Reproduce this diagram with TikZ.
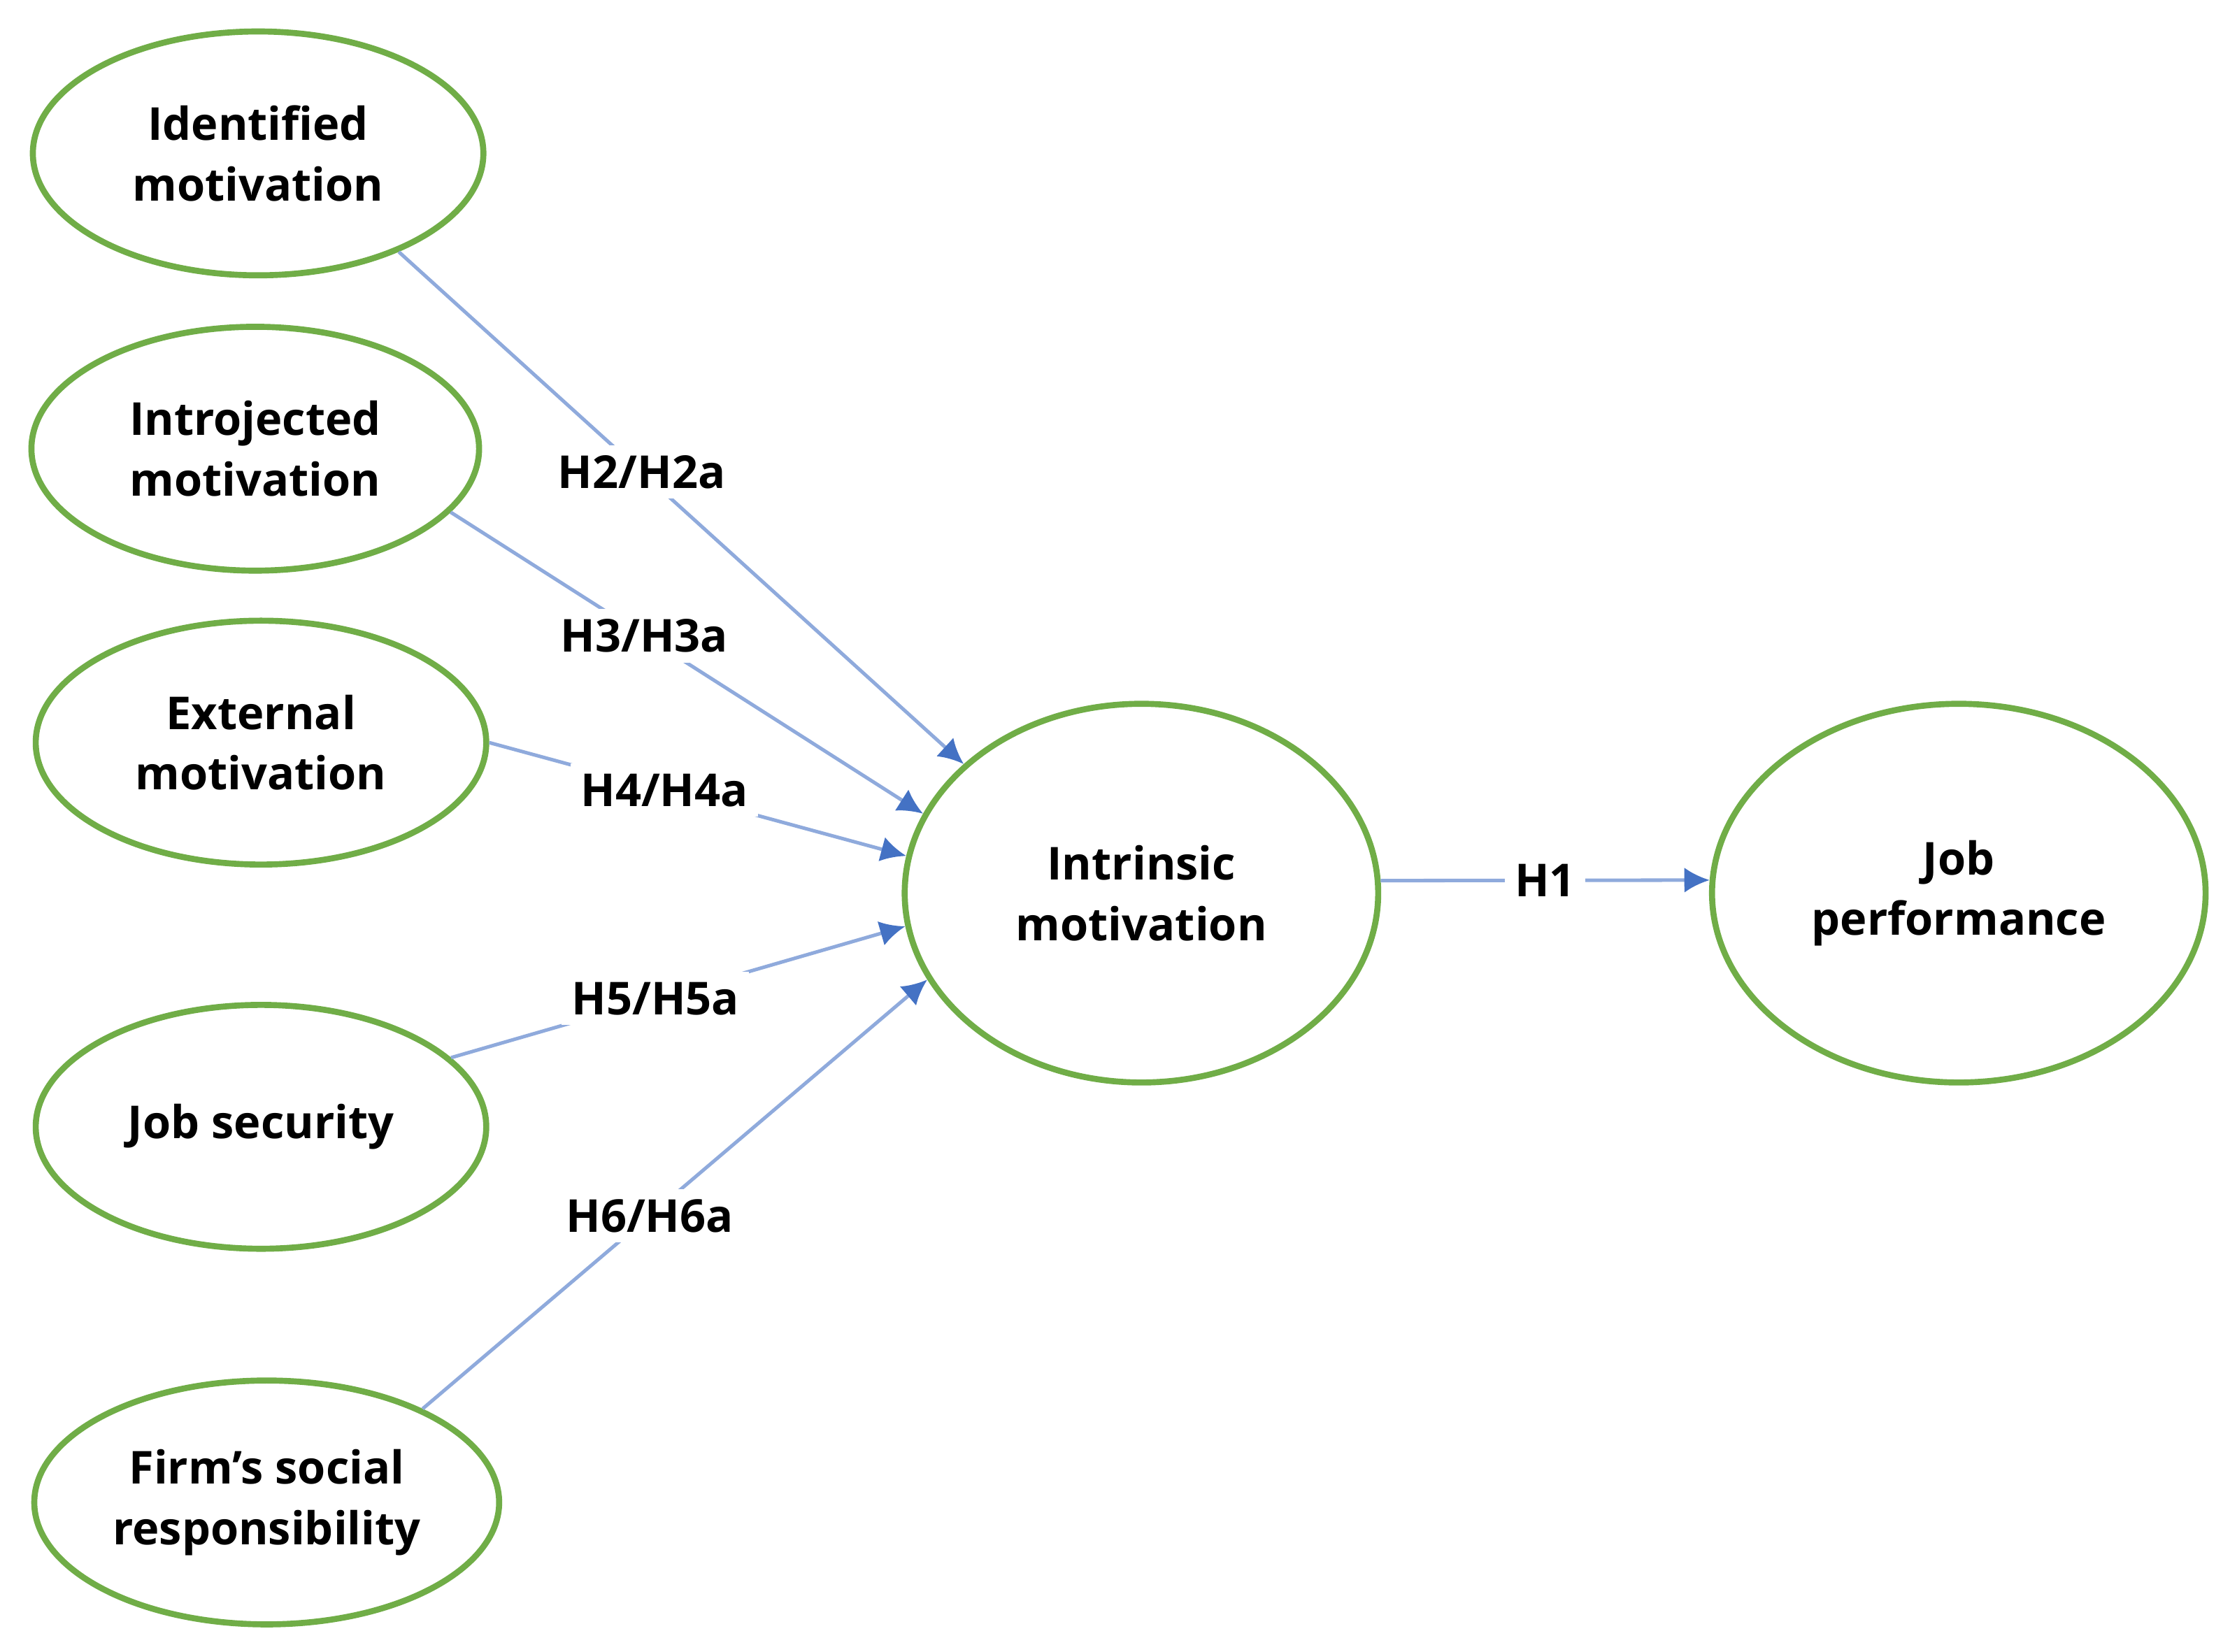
\documentclass[tikz,border=0pt]{standalone}
\usepackage{fontspec}
\setmainfont{Open Sans}
\usetikzlibrary{shapes.geometric,arrows.meta}
\definecolor{ovalgreen}{HTML}{70AD47}
\definecolor{linkblue}{HTML}{8FAADC}
\definecolor{tipblue}{HTML}{4472C4}
\begin{document}
\begin{tikzpicture}[x=0.01cm,y=-0.01cm,
    construct/.style={ellipse,draw=ovalgreen,line width=1.2pt,inner sep=0pt,
        align=center,font=\fontsize{9}{12}\selectfont\bfseries},
    link/.style={draw=linkblue,line width=0.7pt,-{Latex[length=5pt,width=5pt,color=tipblue]}},
    hyp/.style={fill=white,inner sep=2pt,font=\fontsize{9}{12}\selectfont\bfseries}]
    \useasboundingbox (0,0) rectangle (1560,1152);
    % left column
    \node[construct,minimum width=3.14cm,minimum height=1.7cm] (idm) at (180,107){Identified\\motivation};
    \node[construct,minimum width=3.12cm,minimum height=1.7cm] (inm) at (178,313){Introjected\\motivation};
    \node[construct,minimum width=3.14cm,minimum height=1.7cm] (exm) at (182,518){External\\motivation};
    \node[construct,minimum width=3.14cm,minimum height=1.7cm] (jsc) at (182,786){Job security};
    \node[construct,minimum width=3.24cm,minimum height=1.7cm] (fsr) at (186,1048){Firm{\char"27}s social\\responsibility};
    % right part
    \node[construct,minimum width=3.3cm,minimum height=2.64cm] (intr) at (796,623){Intrinsic\\motivation};
    \node[construct,minimum width=3.44cm,minimum height=2.64cm] (jp) at (1366,623){Job\\performance};
    % paths
    \draw[link] (idm.-35) -- node[hyp,pos=0.43]{H2/H2a} (intr.144);
    \draw[link] (inm.-18) -- node[hyp,pos=0.41]{H3/H3a} (intr.160);
    \draw[link] (exm.0) -- node[hyp,pos=0.42]{H4/H4a} (intr.171);
    \draw[link] (jsc.20) -- node[hyp,pos=0.45]{H5/H5a} (intr.188);
    \draw[link] (fsr.31) -- node[hyp,pos=0.45]{H6/H6a} (intr.202);
    \draw[link] (intr.3) -- node[hyp]{H1} (jp.177);
\end{tikzpicture}
\end{document}
